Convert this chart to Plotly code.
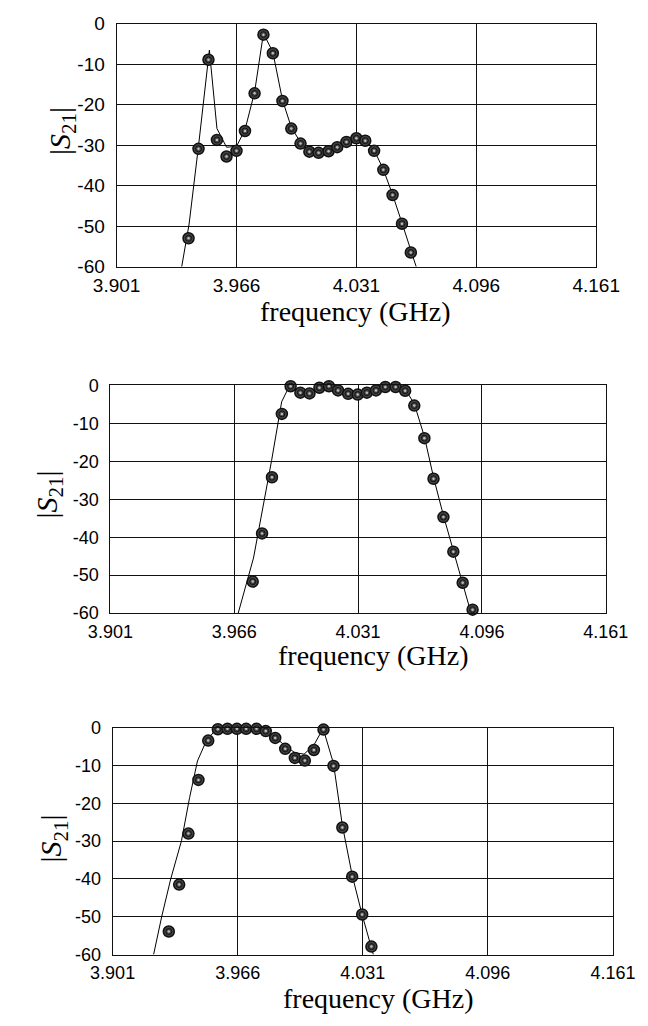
import plotly.graph_objects as go

W, H = 648, 1026

# ---------------- data ----------------
tick_vals = [3.901, 3.966, 4.031, 4.096, 4.161]
tick_text = ["3.901", "3.966", "4.031", "4.096", "4.161"]
y_ticks = [0, -10, -20, -30, -40, -50, -60]
y_tick_text = ["0", "-10", "-20", "-30", "-40", "-50", "-60"]

# Panel 1 (top)
p1_meas_f = [3.9400, 3.9454, 3.9508, 3.9554, 3.9606, 3.9660, 3.9706, 3.9758, 3.9806,
             3.9857, 3.9909, 3.9957, 4.0007, 4.0055, 4.0105, 4.0159, 4.0206, 4.0256,
             4.0310, 4.0358, 4.0406, 4.0456, 4.0506, 4.0557, 4.0605]
p1_meas_s = [-53.0, -30.9, -8.9, -28.7, -32.8, -31.4, -26.5, -17.2, -2.7,
             -7.3, -19.1, -25.9, -29.6, -31.6, -31.9, -31.5, -30.5, -29.2,
             -28.3, -28.9, -31.4, -36.1, -42.3, -49.4, -56.5]
p1_sim_f = [3.9363, 3.9403, 3.9454, 3.9513, 3.9554, 3.9606, 3.9660, 3.9706, 3.9758,
            3.9806, 3.9857, 3.9909, 3.9957, 4.0007, 4.0055, 4.0105, 4.0159, 4.0206,
            4.0256, 4.0310, 4.0358, 4.0406, 4.0456, 4.0506, 4.0557, 4.0605, 4.0634]
p1_sim_s = [-60.0, -49.5, -30.2, -6.5, -25.9, -30.5, -30.3, -26.2, -16.9,
            -2.4, -7.0, -18.8, -25.6, -29.3, -31.3, -31.6, -31.2, -30.3,
            -29.0, -27.8, -28.6, -31.2, -36.0, -42.2, -49.2, -56.3, -60.0]

# Panel 2 (middle)
p2_meas_f = [3.9757, 3.9806, 3.9858, 3.9910, 3.9956, 4.0007, 4.0055, 4.0107, 4.0157,
             4.0205, 4.0258, 4.0308, 4.0356, 4.0404, 4.0453, 4.0507, 4.0557, 4.0605,
             4.0658, 4.0706, 4.0758, 4.0810, 4.0859, 4.0911]
p2_meas_s = [-51.7, -39.0, -24.2, -7.5, -0.2, -1.9, -2.1, -0.6, -0.2,
             -1.3, -2.2, -2.4, -1.9, -1.3, -0.4, -0.4, -1.4, -5.3,
             -13.9, -24.6, -34.7, -43.8, -52.0, -59.1]
p2_sim_f = [3.9681, 3.9761, 3.9856, 3.9909, 3.9947, 4.0007, 4.0055, 4.0107, 4.0157,
            4.0205, 4.0258, 4.0308, 4.0356, 4.0404, 4.0453, 4.0507, 4.0557, 4.0605,
            4.0658, 4.0706, 4.0758, 4.0810, 4.0859, 4.0903]
p2_sim_s = [-60.0, -45.5, -19.8, -4.3, -0.4, -1.6, -1.8, -0.5, -0.2,
            -1.1, -2.0, -2.2, -1.7, -1.1, -0.3, -0.3, -1.0, -4.8,
            -13.5, -24.2, -34.3, -43.4, -51.8, -60.0]

# Panel 3 (bottom)
p3_meas_f = [3.9302, 3.9356, 3.9404, 3.9456, 3.9507, 3.9557, 3.9607, 3.9656, 3.9704,
             3.9758, 3.9806, 3.9855, 3.9907, 3.9957, 4.0009, 4.0056, 4.0106, 4.0158,
             4.0204, 4.0255, 4.0307, 4.0355]
p3_meas_s = [-53.9, -41.5, -28.0, -13.8, -3.4, -0.4, -0.3, -0.3, -0.3,
             -0.3, -0.9, -2.7, -5.6, -8.0, -8.7, -5.9, -0.5, -10.1,
             -26.4, -39.4, -49.4, -57.9]
p3_sim_f = [3.9223, 3.9265, 3.9312, 3.9368, 3.9410, 3.9451, 3.9496, 3.9544, 3.9600,
            3.9650, 3.9700, 3.9760, 3.9806, 3.9855, 3.9907, 3.9957, 4.0005, 4.0056,
            4.0104, 4.0158, 4.0204, 4.0255, 4.0307, 4.0365]
p3_sim_s = [-60.0, -50.0, -40.0, -29.9, -18.5, -8.8, -3.6, -0.6, 0.0,
            0.0, 0.0, -0.2, -0.8, -2.5, -4.8, -6.6, -7.0, -4.6,
            -0.2, -9.5, -25.8, -39.0, -49.5, -60.0]

panels = [
    dict(sim=(p1_sim_f, p1_sim_s), meas=(p1_meas_f, p1_meas_s),
         box=(100, 618, 14, 262), tickfs=19, ytitle=(41.7, 124), xtitle=(357, 308)),
    dict(sim=(p2_sim_f, p2_sim_s), meas=(p2_meas_f, p2_meas_s),
         box=(93.3, 628.3, 383.3, 615.7), tickfs=18, ytitle=(26.7, 495), xtitle=(377, 659)),
    dict(sim=(p3_sim_f, p3_sim_s), meas=(p3_meas_f, p3_meas_s),
         box=(95.7, 636, 732.7, 964.3), tickfs=18, ytitle=(31.2, 846), xtitle=(382, 1009)),
]

fig = go.Figure()
annotations = []
layout = dict(
    width=W, height=H, margin=dict(l=0, r=0, t=0, b=0),
    paper_bgcolor="white", plot_bgcolor="white", showlegend=False,
)

for i, p in enumerate(panels, start=1):
    xa = "x" if i == 1 else f"x{i}"
    ya = "y" if i == 1 else f"y{i}"
    x0, x1, y0, y1 = p["box"]
    sf, ss = p["sim"]
    mf, ms = p["meas"]
    fig.add_trace(go.Scatter(x=sf, y=ss, mode="lines", xaxis=xa, yaxis=ya,
                             line=dict(color="black", width=1), cliponaxis=True))
    fig.add_trace(go.Scatter(x=mf, y=ms, mode="markers", xaxis=xa, yaxis=ya, cliponaxis=False,
                             marker=dict(symbol="circle", size=11, color="#444",
                                         line=dict(color="#111", width=1.5))))
    fig.add_trace(go.Scatter(x=mf, y=ms, mode="markers", xaxis=xa, yaxis=ya, cliponaxis=False,
                             marker=dict(symbol="circle-open", size=6, color="#111",
                                         line=dict(color="#111", width=1))))
    fig.add_trace(go.Scatter(x=mf, y=ms, mode="markers", xaxis=xa, yaxis=ya, cliponaxis=False,
                             marker=dict(symbol="circle", size=2.5, color="#bbbbbb",
                                         line=dict(width=0))))
    xkey = "xaxis" if i == 1 else f"xaxis{i}"
    ykey = "yaxis" if i == 1 else f"yaxis{i}"
    layout[xkey] = dict(
        domain=[x0 / W, x1 / W], anchor=ya, range=[3.901, 4.161],
        tickvals=tick_vals, ticktext=tick_text, ticks="outside", ticklen=2,
        tickcolor="rgba(0,0,0,0)",
        tickfont=dict(family="Liberation Sans, Arial", size=p["tickfs"], color="black"),
        showgrid=True, gridcolor="#111", gridwidth=1,
        showline=True, linecolor="#111", linewidth=1, mirror=True, zeroline=False,
    )
    layout[ykey] = dict(
        domain=[1 - y1 / H, 1 - y0 / H], anchor=xa, range=[-60, 0],
        tickvals=y_ticks, ticktext=y_tick_text, ticks="outside", ticklen=7,
        tickcolor="rgba(0,0,0,0)",
        tickfont=dict(family="Liberation Sans, Arial", size=p["tickfs"], color="black"),
        showgrid=True, gridcolor="#111", gridwidth=1,
        showline=True, linecolor="#111", linewidth=1, mirror=True, zeroline=False,
    )
    tx, ty = p["ytitle"]
    annotations.append(dict(
        text="|<i>S</i><sub>21</sub>|", xref="paper", yref="paper",
        x=tx / W, y=1 - ty / H, xanchor="center", yanchor="middle",
        textangle=-90, showarrow=False,
        font=dict(family="Liberation Serif, Times New Roman", size=30, color="black")))
    fx, fy = p["xtitle"]
    annotations.append(dict(
        text="frequency (GHz)", xref="paper", yref="paper",
        x=fx / W, y=1 - fy / H, xanchor="center", yanchor="middle",
        showarrow=False,
        font=dict(family="Liberation Serif, Times New Roman", size=28, color="black")))

layout["annotations"] = annotations
fig.update_layout(**layout)
fig.write_html("out.html")
